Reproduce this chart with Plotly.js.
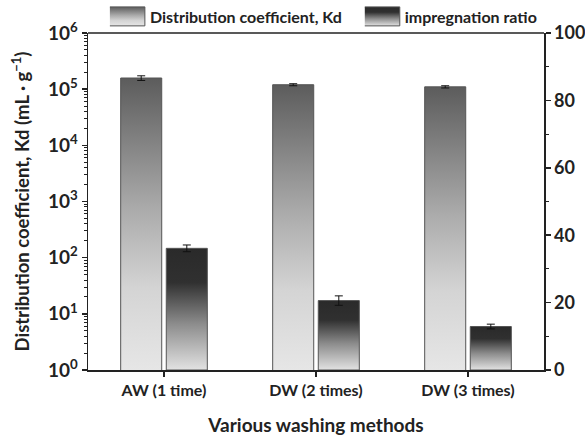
<!DOCTYPE html>
<html>
<head>
<meta charset="utf-8">
<script src="https://cdn.plot.ly/plotly-3.0.1.min.js"></script>
<style>body{margin:0;padding:0;background:#fff}#chart{width:585px;height:437px}</style>
</head>
<body>
<div id="chart"></div>
<script>
const categories = ["AW (1 time)", "DW (2 times)", "DW (3 times)"];
const kdValues = [1.58e5, 1.20e5, 1.10e5];
const kdErrors = [1.5e4, 5e3, 5e3];
const ratioValues = [36.1, 20.6, 12.9];
const ratioErrors = [1.0, 1.4, 0.7];
const kdName = "Distribution coefficient, Kd";
const ratioName = "impregnation ratio";
const logTickVals = [1, 10, 100, 1000, 10000, 100000, 1000000];
const logTickText = ["10<sup>0</sup>", "10<sup>1</sup>", "10<sup>2</sup>", "10<sup>3</sup>", "10<sup>4</sup>", "10<sup>5</sup>", "10<sup>6</sup>"];

const FONT = "Lato, 'Open Sans', sans-serif";

const data = [
  {
    type: "bar", name: kdName, x: categories, y: kdValues, yaxis: "y", legend: "legend",
    width: 0.27, offset: -0.285,
    marker: {color: "#999", line: {color: "#555", width: 1}},
    error_y: {type: "data", array: kdErrors, color: "#111", thickness: 1, width: 4}
  },
  {
    type: "bar", name: ratioName, x: categories, y: ratioValues, yaxis: "y2", legend: "legend2",
    width: 0.27, offset: 0.015,
    marker: {color: "#555", line: {color: "#555", width: 1}},
    error_y: {type: "data", array: ratioErrors, color: "#111", thickness: 1, width: 4}
  }
];

const legendFont = {family: FONT, size: 16, color: "#222", weight: 700};

const layout = {
  width: 585, height: 437,
  margin: {l: 88, r: 41, t: 33, b: 67, autoexpand: false},
  paper_bgcolor: "#fff", plot_bgcolor: "#fff",
  font: {family: FONT, size: 15, color: "#222", weight: 700},
  showlegend: true,
  legend: {orientation: "h", x: 0.048, xanchor: "left", y: 1.049, yanchor: "middle",
    font: legendFont, bgcolor: "rgba(0,0,0,0)"},
  legend2: {orientation: "h", x: 0.607, xanchor: "left", y: 1.049, yanchor: "middle",
    font: legendFont, bgcolor: "rgba(0,0,0,0)"},
  xaxis: {
    type: "category", range: [-0.5, 2.5],
    showline: true, linecolor: "#222", linewidth: 1.5,
    ticks: "outside", ticklen: 5, tickwidth: 1.5, tickcolor: "#222",
    minor: {ticks: "outside", ticklen: 3, tickwidth: 1, tickcolor: "#222"},
    tickfont: {family: FONT, size: 16, color: "#222", weight: 700},
    title: {text: "Various washing methods", font: {family: FONT, size: 19, color: "#222", weight: 700}, standoff: 21},
    showgrid: false, zeroline: false, mirror: false
  },
  yaxis: {
    type: "log", range: [0, 6], tickmode: "array", tickvals: logTickVals, ticktext: logTickText,
    showline: true, linecolor: "#222", linewidth: 1.5,
    ticks: "outside", ticklen: 5, tickwidth: 1.5, tickcolor: "#222",
    minor: {ticks: "outside", ticklen: 2.5, tickwidth: 1, tickcolor: "#222", dtick: "D1"},
    tickfont: {family: FONT, size: 19, color: "#222", weight: 700},
    title: {text: "Distribution coefficient, Kd (mL · g<sup>−1</sup>)", font: {family: FONT, size: 18.5, color: "#222", weight: 700}, standoff: 13},
    showgrid: false, zeroline: false
  },
  yaxis2: {
    overlaying: "y", side: "right", range: [0, 100], dtick: 20,
    showline: true, linecolor: "#222", linewidth: 1.5,
    ticks: "outside", ticklen: 5, tickwidth: 1.5, tickcolor: "#222",
    minor: {ticks: "outside", ticklen: 3, tickwidth: 1, tickcolor: "#222", dtick: 10},
    tickfont: {family: FONT, size: 18, color: "#222", weight: 700},
    ticklabelstandoff: 0,
    showgrid: false, zeroline: false
  },
  shapes: [
    {type: "line", xref: "paper", yref: "paper", x0: 0, x1: 1, y0: 1, y1: 1, line: {color: "#222", width: 1.5}}
  ]
};

const gradStops = {
  gradKd: [[0, "#5c5c5c"], [0.45, "#ababab"], [0.72, "#d4d4d4"], [1, "#e6e6e6"]],
  gradRatio: [[0, "#2a2a2a"], [0.28, "#303030"], [0.62, "#8c8c8c"], [1, "#e2e2e2"]]
};

function addGradients() {
  const gd = document.getElementById("chart");
  const plotH = gd._fullLayout._size.h;
  const svg = gd.querySelector(".main-svg");
  const ns = "http://www.w3.org/2000/svg";
  let defs = svg.querySelector("defs");
  if (!defs) { defs = document.createElementNS(ns, "defs"); svg.insertBefore(defs, svg.firstChild); }
  function makeGrad(id, stops, user, y1, y2) {
    const g = document.createElementNS(ns, "linearGradient");
    g.setAttribute("id", id);
    if (user) {
      g.setAttribute("gradientUnits", "userSpaceOnUse");
      g.setAttribute("x1", "0"); g.setAttribute("x2", "0");
      g.setAttribute("y1", y1); g.setAttribute("y2", y2);
    } else {
      g.setAttribute("x1", "0"); g.setAttribute("y1", "0");
      g.setAttribute("x2", "0"); g.setAttribute("y2", "1");
    }
    stops.forEach(([o, c]) => {
      const s = document.createElementNS(ns, "stop");
      s.setAttribute("offset", o); s.setAttribute("stop-color", c);
      g.appendChild(s);
    });
    defs.appendChild(g);
  }
  const ids = ["gradKd", "gradRatio"];
  ids.forEach(id => makeGrad(id + "Leg", gradStops[id], false));
  gd.querySelectorAll(".barlayer .trace").forEach((tr, i) => {
    tr.querySelectorAll(".point path").forEach((p, j) => {
      const bb = p.getBBox();
      const top = Math.max(bb.y, 0);
      const bottom = Math.min(bb.y + bb.height, plotH);
      const gid = ids[i] + "_" + j;
      makeGrad(gid, gradStops[ids[i]], true, top, bottom);
      p.style.fill = "url(#" + gid + ")";
    });
  });
  gd.querySelectorAll(".legendpoints").forEach((lp, i) => {
    lp.querySelectorAll("path").forEach(p => {
      p.setAttribute("d", "M-23,-9.5H15V9.5H-23Z");
      p.style.fill = "url(#" + ids[i % 2] + "Leg)";
      p.style.stroke = "#555"; p.style.strokeWidth = "1px";
    });
  });
}

Plotly.newPlot("chart", data, layout, {staticPlot: true}).then(addGradients);
</script>
</body>
</html>
